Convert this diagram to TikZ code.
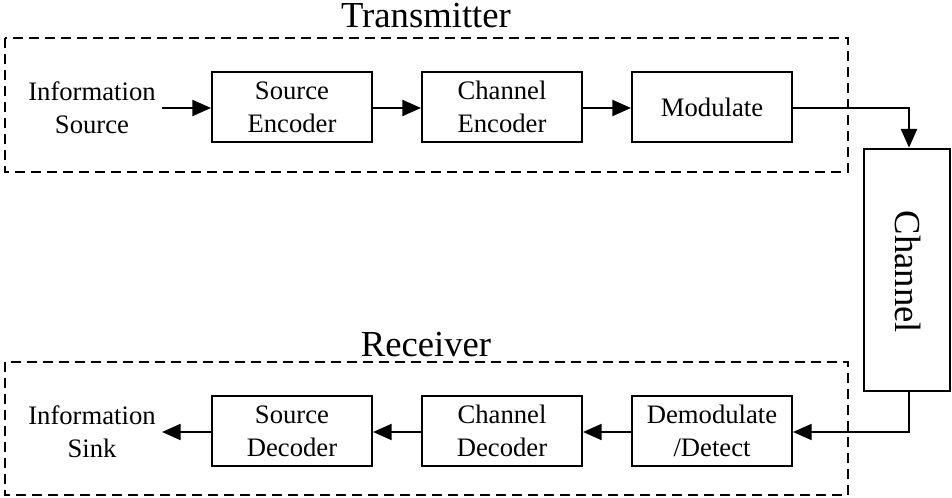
\documentclass[tikz,border=0pt]{standalone}
\usepackage{fontspec}
\setmainfont{Liberation Serif}
\usetikzlibrary{arrows.meta,positioning}
\tikzset{
  blk/.style={draw, line width=1.5pt, minimum width=120pt, minimum height=52.5pt, inner sep=0pt, align=center, font=\fontsize{20}{24.75}\selectfont},
  lbl/.style={align=center, inner sep=0pt, font=\fontsize{20}{24.75}\selectfont},
  big/.style={inner sep=0pt, font=\fontsize{27.5}{33}\selectfont},
  grp/.style={draw, line width=1.5pt, dash pattern=on 7.5pt off 4.5pt},
  conn/.style={line width=1.5pt, -{Triangle[length=14pt,width=12pt]}},
}
\begin{document}
\begin{tikzpicture}[x=0.75pt,y=-0.75pt]
\useasboundingbox (0,0) rectangle (952,498);
% groups
\draw[grp] (5,38) rectangle (848,172);
\draw[grp] (5,362) rectangle (848,495);
\node[big] (tx) at (426,16) {Transmitter};
\node[big] (rx) at (426,345) {Receiver};
% transmitter chain
\node[lbl] (isrc) at (92,108) {Information\\Source};
\node[blk] (senc) at (292,107) {Source\\Encoder};
\node[blk] (cenc) at (502,107) {Channel\\Encoder};
\node[blk] (mod)  at (712,107) {Modulate};
% channel
\node[draw, line width=1.5pt, minimum width=65pt, minimum height=182pt, inner sep=0pt] (chan) at (907,270) {};
\node[big, rotate=-90] (chant) at (908,272) {Channel};
% receiver chain
\node[blk] (dem)  at (712,431) {Demodulate\\/Detect};
\node[blk] (cdec) at (502,431) {Channel\\Decoder};
\node[blk] (sdec) at (292,431) {Source\\Decoder};
\node[lbl] (isnk) at (92,432) {Information\\Sink};
% connectors
\coordinate (a1) at (162,108);
\draw[conn] (a1) -- (senc.west |- a1);
\draw[conn] (senc.east |- a1) -- (cenc.west |- a1);
\draw[conn] (cenc.east |- a1) -- (mod.west |- a1);
\coordinate (c1) at (909,108);
\draw[conn] (mod.east |- c1) -- (c1) -- (c1 |- chan.north);
\coordinate (c2) at (909,432);
\draw[conn] (c2 |- chan.south) -- (c2) -- (dem.east |- c2);
\draw[conn] (dem.west |- c2) -- (cdec.east |- c2);
\draw[conn] (cdec.west |- c2) -- (sdec.east |- c2);
\coordinate (a2) at (162,432);
\draw[conn] (sdec.west |- c2) -- (a2);
\end{tikzpicture}
\end{document}
